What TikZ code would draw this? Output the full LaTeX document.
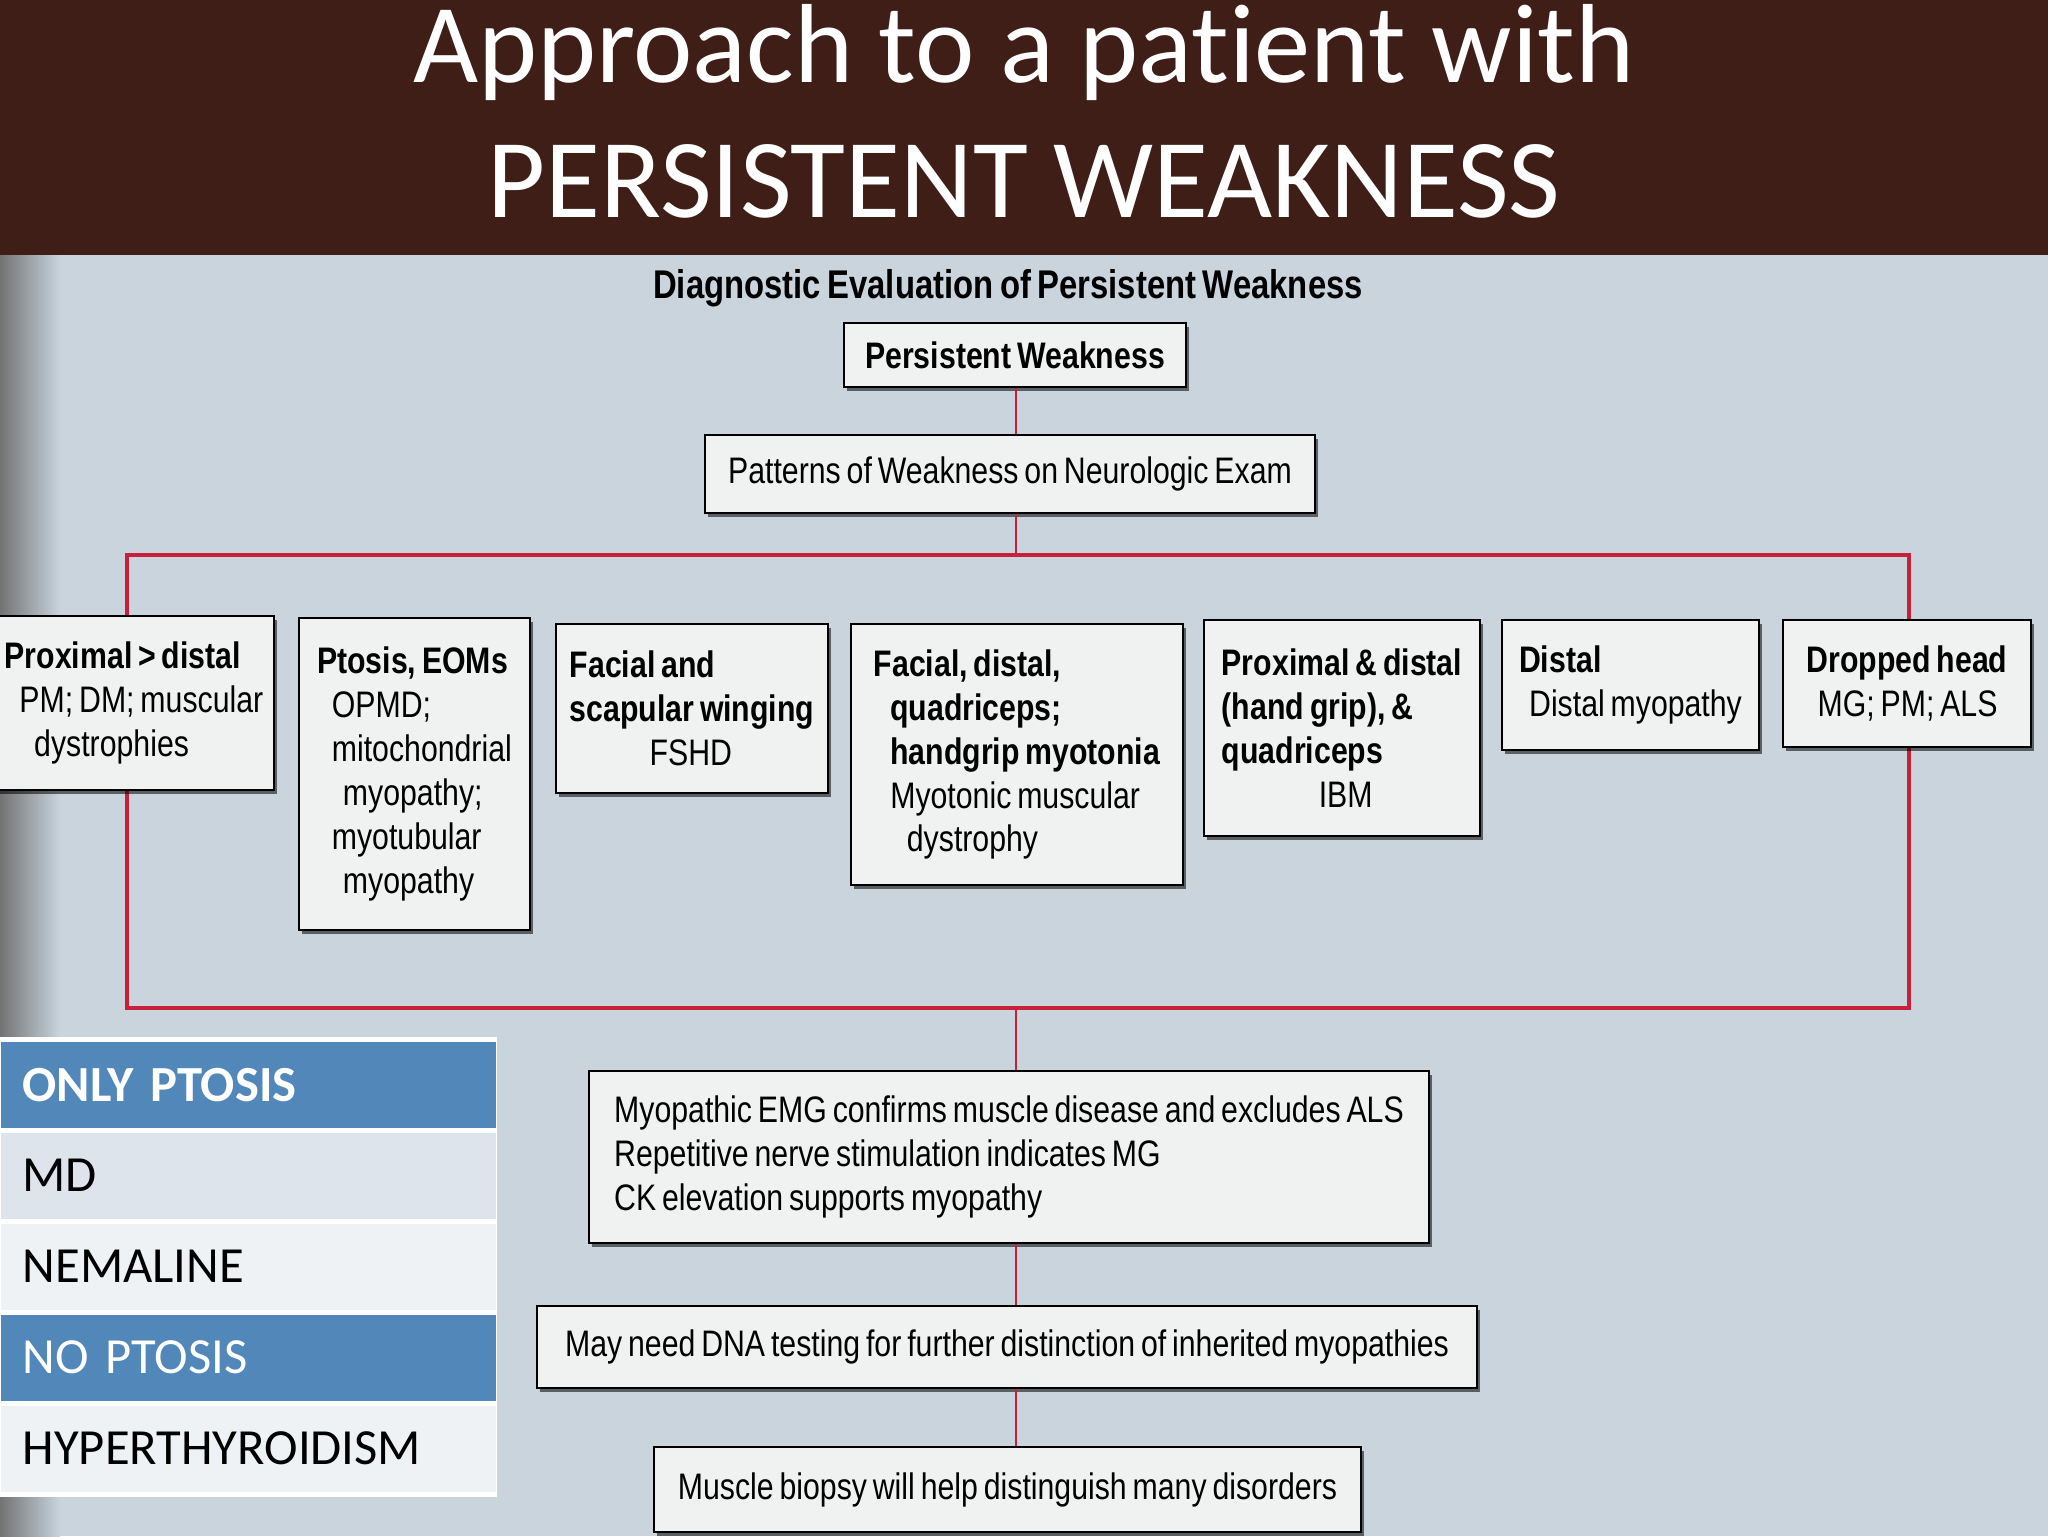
\documentclass[tikz,border=0pt]{standalone}
\usepackage{fontspec}
\setmainfont{Carlito}[Ligatures={CommonOff,ContextualOff}, Contextuals=AlternateOff]
\newfontfamily\condfont[FakeStretch=0.82, WordSpace=0.7]{Liberation Sans}
\usepackage{tikz}
\usetikzlibrary{shadows}
\definecolor{band}{HTML}{3F1E17}
\definecolor{paper}{HTML}{C9D4DD}
\definecolor{busred}{HTML}{C8203A}
\definecolor{boxfill}{HTML}{F0F1F1}
\definecolor{tblue}{HTML}{5287B9}
\definecolor{tlight}{HTML}{DDE4EC}
\definecolor{tpale}{HTML}{EEF2F5}
\hyphenpenalty=10000

\begin{document}
\begin{tikzpicture}[x=0.1mm, y=-0.1mm,
  box/.style={draw, line width=0.25mm, fill=boxfill, inner xsep=1mm, inner ysep=0.8mm,
              align=left, font=\condfont\fontsize{10.5}{12.5}\selectfont,
              drop shadow={shadow xshift=0.3mm, shadow yshift=-0.4mm, fill=black, opacity=0.55}},
  mid/.style={box, align=center},
  tabrow/.style={anchor=north west, minimum width=49.5mm, minimum height=8.6mm, inner xsep=2.2mm,
                 text width=45.1mm, align=left, font=\fontsize{14.4}{17}\selectfont},
  hi/.style={tabrow, fill=tblue, text=white},
  lo/.style={tabrow, fill=tlight},
  pale/.style={tabrow, fill=tpale},
  ttl/.style={text=white, anchor=base, font=\fontsize{32}{36}\selectfont},
  bus/.style={draw=busred, line width=0.4mm},
  stem/.style={draw=busred, line width=0.2mm}]
  \useasboundingbox (0,0) rectangle (2048,1536);
  % slide backdrop
  \fill[band] (0,0) rectangle (2048,255);
  \fill[paper] (0,255) rectangle (2048,1536);
  \shade[left color=black!55, right color=paper] (0,255) rectangle (60,1536);
  \node[ttl] (title1) at (1024,82)  {Approach to a patient with};
  \node[ttl] (title2) at (1024,217) {PERSISTENT WEAKNESS};
  \node[anchor=base, font=\condfont\bfseries\fontsize{11.4}{13}\selectfont] (hdr) at (1008,298)
    {Diagnostic Evaluation of Persistent Weakness};
  % red frame round the patterns, trunk at x = 1016
  \coordinate (busNW) at (127,555);
  \coordinate (busSE) at (1909,1008);
  \coordinate (trunk) at (1016,0);
  \draw[bus] (busNW) rectangle (busSE);
  \node[mid, minimum width=34.2mm, minimum height=6.4mm] (pw)  at (1015,355) {\textbf{Persistent Weakness}};
  \node[mid, minimum width=61mm,   minimum height=7.8mm] (pat) at (1010,474) {Patterns of Weakness on Neurologic Exam};
  \node[box, minimum width=28mm, minimum height=17.4mm] (prox) at (134,703)
    {\textbf{Proximal > distal}\\\hspace*{0.4em}PM; DM; muscular\\\hspace*{0.8em}dystrophies};
  \node[box, minimum width=23.1mm, minimum height=31.2mm] (ptos) at (414.5,774)
    {\textbf{Ptosis, EOMs}\\\hspace*{0.4em}OPMD;\\\hspace*{0.4em}mitochondrial\\\hspace*{0.7em}myopathy;\\\hspace*{0.4em}myotubular\\\hspace*{0.7em}myopathy};
  \node[box, minimum width=27.2mm, minimum height=16.9mm] (fac) at (692,708.5)
    {\textbf{Facial and}\\\textbf{scapular winging}\\\hspace*{8mm}FSHD};
  \node[box, minimum width=33.2mm, minimum height=26.1mm] (myot) at (1017,754.5)
    {\textbf{Facial, distal,}\\\hspace*{0.45em}\textbf{quadriceps;}\\\hspace*{0.45em}\textbf{handgrip myotonia}\\\hspace*{0.45em}Myotonic muscular\\\hspace*{0.9em}dystrophy};
  \node[box, minimum width=27.6mm, minimum height=21.6mm] (ibm) at (1342,728)
    {\textbf{Proximal \& distal}\\\textbf{(hand grip), \&}\\\textbf{quadriceps}\\\hspace*{9.7mm}IBM};
  \node[box, minimum width=25.7mm, minimum height=13mm] (dist) at (1630.5,685)
    {\textbf{Distal}\\\hspace*{1mm}Distal myopathy};
  \node[box, minimum width=24.8mm, minimum height=12.7mm] (drop) at (1907,683.5)
    {\textbf{Dropped head}\\\hspace*{1.1mm}MG; PM; ALS};
  \node[box, minimum width=84mm, minimum height=17.2mm] (emg) at (1009,1157)
    {Myopathic EMG confirms muscle disease and excludes ALS\\Repetitive nerve stimulation indicates MG\\CK elevation supports myopathy};
  \node[mid, minimum width=94mm, minimum height=8.2mm] (dna) at (1007,1347)
    {May need DNA testing for further distinction of inherited myopathies};
  \node[mid, minimum width=70.7mm, minimum height=8.5mm] (bio) at (1007.5,1489.5)
    {Muscle biopsy will help distinguish many disorders};
  \draw[stem] (pw.south -| trunk) -- (pat.north -| trunk);
  \draw[stem] (pat.south -| trunk) -- (busNW -| trunk);
  \draw[stem] (busSE -| trunk) -- (emg.north -| trunk);
  \draw[stem] (emg.south -| trunk) -- (dna.north -| trunk);
  \draw[stem] (dna.south -| trunk) -- (bio.north -| trunk);
  % key table on the left
  \fill[white] (0,1037) rectangle (497,1497);
  \node[hi]   (r1) at (0,1041) {\textbf{ONLY PTOSIS}};
  \node[lo]   (r2) at (0,1132) {MD};
  \node[pale] (r3) at (0,1223) {NEMALINE};
  \node[hi]   (r4) at (0,1314) {NO PTOSIS};
  \node[pale] (r5) at (0,1405) {HYPERTHYROIDISM};
\end{tikzpicture}
\end{document}
